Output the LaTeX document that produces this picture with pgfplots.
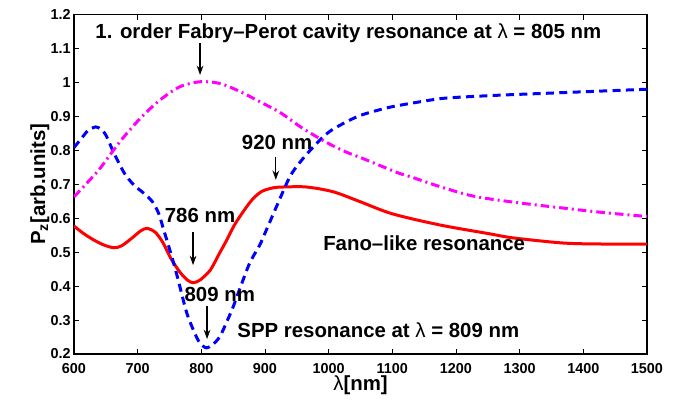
\documentclass[border=0pt]{standalone}
\usepackage{fontspec}
\setmainfont{Liberation Sans}
\usepackage{pgfplots}
\pgfplotsset{compat=1.18}
\usetikzlibrary{arrows.meta}

\definecolor{fanored}{RGB}{255,0,0}
\definecolor{sppblue}{RGB}{0,0,255}
\definecolor{fpmagenta}{RGB}{255,0,255}

\newcommand{\lam}{{\mdseries λ}}

\begin{document}
\begin{tikzpicture}
\begin{axis}[
  name=ax,
  at={(0,0)}, anchor=south west,
  scale only axis,
  width=429.75pt, height=254.6pt,
  xmin=600, xmax=1500, ymin=0.2, ymax=1.2,
  xtick={600,700,...,1500},
  xticklabels={\textbf{600},\textbf{700},\textbf{800},\textbf{900},\textbf{1000},
               \textbf{1100},\textbf{1200},\textbf{1300},\textbf{1400},\textbf{1500}},
  ytick={0.2,0.3,0.4,0.5,0.6,0.7,0.8,0.9,1,1.1,1.2},
  yticklabels={\textbf{0.2},\textbf{0.3},\textbf{0.4},\textbf{0.5},\textbf{0.6},\textbf{0.7},
               \textbf{0.8},\textbf{0.9},\textbf{1},\textbf{1.1},\textbf{1.2}},
  tick align=inside,
  major tick length=3.75pt,
  axis line style={line width=0.9pt},
  tick style={line width=0.6pt, black},
  ticklabel style={font=\fontsize{10.8}{12}\selectfont},
  yticklabel style={xshift=1pt},
  xticklabel style={yshift=-3.5pt},
  label style={font=\fontsize{15.3}{17}\selectfont\bfseries},
  xlabel={\lam[nm]},
  ylabel={P\textsubscript{z}[arb.units]},
  xlabel style={yshift=5pt},
  ylabel style={yshift=-6pt},
  clip=true,
]
% Fano-like response (solid red)
\addplot[fanored, line width=2.25pt, smooth] coordinates {
(600,0.577) (615,0.555) (631,0.536) (647,0.521) (663,0.513) (675,0.519)
(690,0.540) (705,0.563) (715,0.570) (728,0.558) (740,0.527) (752,0.482)
(766,0.442) (778,0.418) (787,0.410) (798,0.418) (814,0.447) (828,0.495)
(840,0.536) (852,0.580) (866,0.620) (880,0.655) (895,0.679) (914,0.690)
(930,0.692) (965,0.692) (1007,0.678) (1049,0.649) (1100,0.613) (1175,0.580)
(1250,0.555) (1290,0.542) (1368,0.527) (1430,0.524) (1500,0.524)
};
% SPP response (dashed blue)
\addplot[sppblue, line width=2.25pt, smooth, dash pattern=on 6pt off 4pt] coordinates {
(600,0.808) (612,0.836) (622,0.858) (634,0.869) (642,0.862) (650,0.845)
(663,0.791) (679,0.733) (694,0.698) (710,0.673) (723,0.649) (733,0.614)
(741,0.565) (752,0.497) (762,0.430) (777,0.322) (790,0.260) (798,0.232)
(808,0.218) (818,0.228) (829,0.251) (840,0.295) (850,0.339) (862,0.400)
(876,0.468) (892,0.522) (900,0.556) (918,0.634) (939,0.722) (955,0.765)
(971,0.800) (990,0.837) (1005,0.860) (1030,0.886) (1050,0.903) (1075,0.917)
(1101,0.929) (1150,0.945) (1185,0.954) (1263,0.962) (1368,0.970) (1500,0.980)
};
% Fabry-Perot response (dash-dot magenta)
\addplot[fpmagenta, line width=2.25pt, smooth, dash pattern=on 6.5pt off 3pt on 1.5pt off 3pt] coordinates {
(600,0.663) (620,0.703) (641,0.747) (672,0.825) (704,0.894) (735,0.948)
(766,0.987) (798,1.002) (829,0.997) (861,0.973) (892,0.943) (924,0.911)
(955,0.870) (981,0.840) (1005,0.815) (1030,0.793) (1055,0.775) (1107,0.735)
(1132,0.720) (1180,0.690) (1230,0.664) (1300,0.645) (1368,0.630) (1430,0.617)
(1500,0.605)
};

% annotations
\begin{scope}[every node/.style={font=\fontsize{15.3}{17}\selectfont\bfseries, anchor=base, inner sep=0pt},
              annot/.style={-{Stealth[length=7pt,width=5pt]}, line width=0.9pt, black}]
\node at (axis cs:1031,1.130) {1. order Fabry--Perot cavity resonance at \lam{} = 805 nm};
\draw[annot] (axis cs:798,1.116) -- (axis cs:798,1.022);
\node at (axis cs:919,0.803) {920 nm};
\draw[annot] (axis cs:917,0.780) -- (axis cs:917,0.713);
\node at (axis cs:798,0.587) {786 nm};
\draw[annot] (axis cs:787,0.559) -- (axis cs:787,0.462);
\node at (axis cs:829,0.354) {809 nm};
\draw[annot] (axis cs:809,0.342) -- (axis cs:809,0.244);
\node at (axis cs:1078,0.249) {SPP resonance at \lam{} = 809 nm};
\node at (axis cs:1150,0.506) {Fano--like resonance};
\end{scope}
\end{axis}
\path[use as bounding box] (-55.5pt,-35.25pt) rectangle (456pt,265.5pt);
\end{tikzpicture}
\end{document}
